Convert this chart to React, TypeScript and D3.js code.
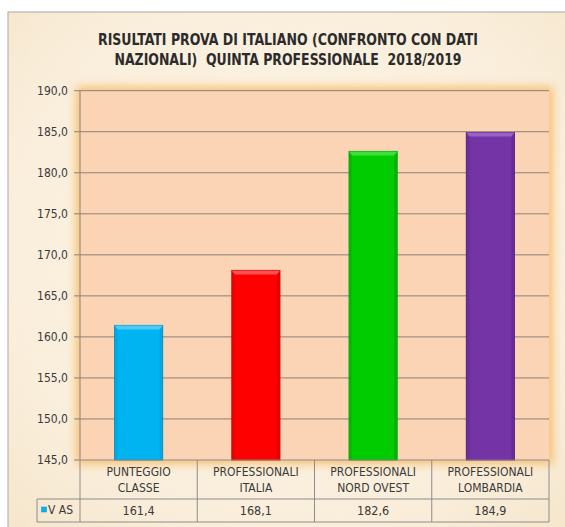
import React from "react";
import * as d3 from "d3";

const titleLines = [
  "RISULTATI PROVA DI ITALIANO (CONFRONTO CON DATI",
  "NAZIONALI)  QUINTA PROFESSIONALE  2018/2019",
];
const categories = [
  "PUNTEGGIO CLASSE",
  "PROFESSIONALI ITALIA",
  "PROFESSIONALI NORD OVEST",
  "PROFESSIONALI LOMBARDIA",
];
const categoryLines = [
  ["PUNTEGGIO", "CLASSE"],
  ["PROFESSIONALI", "ITALIA"],
  ["PROFESSIONALI", "NORD OVEST"],
  ["PROFESSIONALI", "LOMBARDIA"],
];
const seriesName = "V AS";
const values = [161.4, 168.1, 182.6, 184.9];
const yTicks = [145, 150, 155, 160, 165, 170, 175, 180, 185, 190];
const barColors = ["#00B4F2", "#FF0000", "#00CC00", "#7434A6"];
const barEdge = ["#0090C4", "#C40000", "#009A00", "#552080"];
const barTop = ["#4DCBF7", "#FF5050", "#40DD40", "#9A60C8"];

const W = 565;
const H = 527;
const FONT = "'DejaVu Sans Condensed', 'Open Sans', sans-serif";

export default function App() {
  const plotL = 80, plotR = 549, plotT = 90.7, plotB = 460;
  const y = d3.scaleLinear().domain([145, 190]).range([plotB, plotT]);
  const x = d3.scaleBand<string>().domain(categories).range([plotL, plotR]).paddingInner(0).paddingOuter(0);
  const bw = x.bandwidth() * 0.41;
  const fmt = (v: number) => d3.format(".1f")(v).replace(".", ",");
  const row1B = 499, row2B = 522, tableL = 37;
  const titleWidths = [380, 347];

  return (
    <svg width={W} height={H} style={{ position: "absolute", left: 0, top: 0 }} fontFamily={FONT}>
      <defs>
        <radialGradient id="bg" cx="50%" cy="45%" r="75%">
          <stop offset="0%" stopColor="#FDF6E8" />
          <stop offset="70%" stopColor="#FAEEDB" />
          <stop offset="100%" stopColor="#F5E4C8" />
        </radialGradient>
        <filter id="glow" x="-10%" y="-10%" width="120%" height="120%">
          <feGaussianBlur stdDeviation="5" />
        </filter>
        <filter id="tex" x="0" y="0" width="100%" height="100%">
          <feTurbulence type="fractalNoise" baseFrequency="0.03" numOctaves="3" seed="4" />
          <feColorMatrix type="matrix" values="0 0 0 0 0.93  0 0 0 0 0.86  0 0 0 0 0.72  0 0 0 0.35 0" />
        </filter>
      </defs>
      <rect x={0} y={0} width={W} height={H} fill="#fff" />
      <rect x={8} y={12} width={W} height={H} fill="url(#bg)" stroke="#A8A8A8" strokeWidth={1} />
      <rect x={9} y={13} width={W} height={H} filter="url(#tex)" opacity={0.5} />
      {titleLines.map((t, i) => (
        <text
          key={i}
          x={288}
          y={45 + i * 19.5}
          textAnchor="middle"
          fontWeight="bold"
          fontSize={16}
          fill="#2B2B2B"
          textLength={titleWidths[i]}
          lengthAdjust="spacingAndGlyphs"
          style={{ whiteSpace: "pre" }}
        >
          {t}
        </text>
      ))}
      {/* plot glow */}
      <rect x={plotL - 4} y={plotT - 4} width={plotR - plotL + 8} height={plotB - plotT + 8} fill="#F7BC6A" filter="url(#glow)" opacity={0.9} />
      <rect x={plotL} y={plotT} width={plotR - plotL} height={plotB - plotT} fill="#FAD4B4" />
      {yTicks.map((t) => (
        <g key={t}>
          <line x1={plotL - 6} x2={t === 145 ? plotL : plotR} y1={y(t)} y2={y(t)} stroke="#8E8078" strokeWidth={1} />
          <text x={68} y={y(t)} dy="0.35em" textAnchor="end" fontSize={12} fill="#3A3A3A">
            {fmt(t)}
          </text>
        </g>
      ))}
      <line x1={plotL} x2={plotL} y1={plotT} y2={plotB} stroke="#8E8078" />
      {values.map((v, i) => {
        const cx = (x(categories[i]) as number) + x.bandwidth() / 2;
        const x0 = cx - bw / 2;
        const yt = y(v);
        const h = plotB - yt;
        return (
          <g key={i}>
            <rect x={x0} y={yt} width={bw} height={h} fill={barColors[i]} stroke={barEdge[i]} strokeWidth={1} />
            <rect x={x0 + 1} y={yt + 1} width={2} height={h - 1} fill={barEdge[i]} opacity={0.35} />
            <rect x={x0 + bw - 3} y={yt + 1} width={2} height={h - 1} fill={barEdge[i]} opacity={0.45} />
            <polygon
              points={`${x0},${yt} ${x0 + bw},${yt} ${x0 + bw - 3},${yt + 4} ${x0 + 3},${yt + 4}`}
              fill={barTop[i]}
            />
          </g>
        );
      })}
      {/* data table */}
      <g stroke="#8C8C8C" strokeWidth={1} fill="none">
        <line x1={plotL} x2={plotR} y1={plotB} y2={plotB} />
        <line x1={tableL} x2={plotR} y1={row1B} y2={row1B} />
        <line x1={tableL} x2={plotR} y1={row2B} y2={row2B} />
        <line x1={tableL} x2={tableL} y1={row1B} y2={row2B} />
        {[...categories.map((c) => x(c) as number), plotR].map((xx, i) => (
          <line key={i} x1={xx} x2={xx} y1={plotB} y2={row2B} />
        ))}
      </g>
      {categoryLines.map((lines, i) => {
        const cx = (x(categories[i]) as number) + x.bandwidth() / 2;
        return (
          <g key={i}>
            {lines.map((l, j) => (
              <text key={j} x={cx} y={472 + j * 16} dy="0.35em" textAnchor="middle" fontSize={12} fill="#3A3A3A">
                {l}
              </text>
            ))}
            <text x={cx} y={511} dy="0.35em" textAnchor="middle" fontSize={12.5} fill="#3A3A3A">
              {fmt(values[i])}
            </text>
          </g>
        );
      })}
      <rect x={41.5} y={507} width={5} height={5} fill={barColors[0]} stroke={barEdge[0]} strokeWidth={0.5} />
      <text x={48} y={510} dy="0.35em" fontSize={12} fill="#3A3A3A">
        {seriesName}
      </text>
    </svg>
  );
}
